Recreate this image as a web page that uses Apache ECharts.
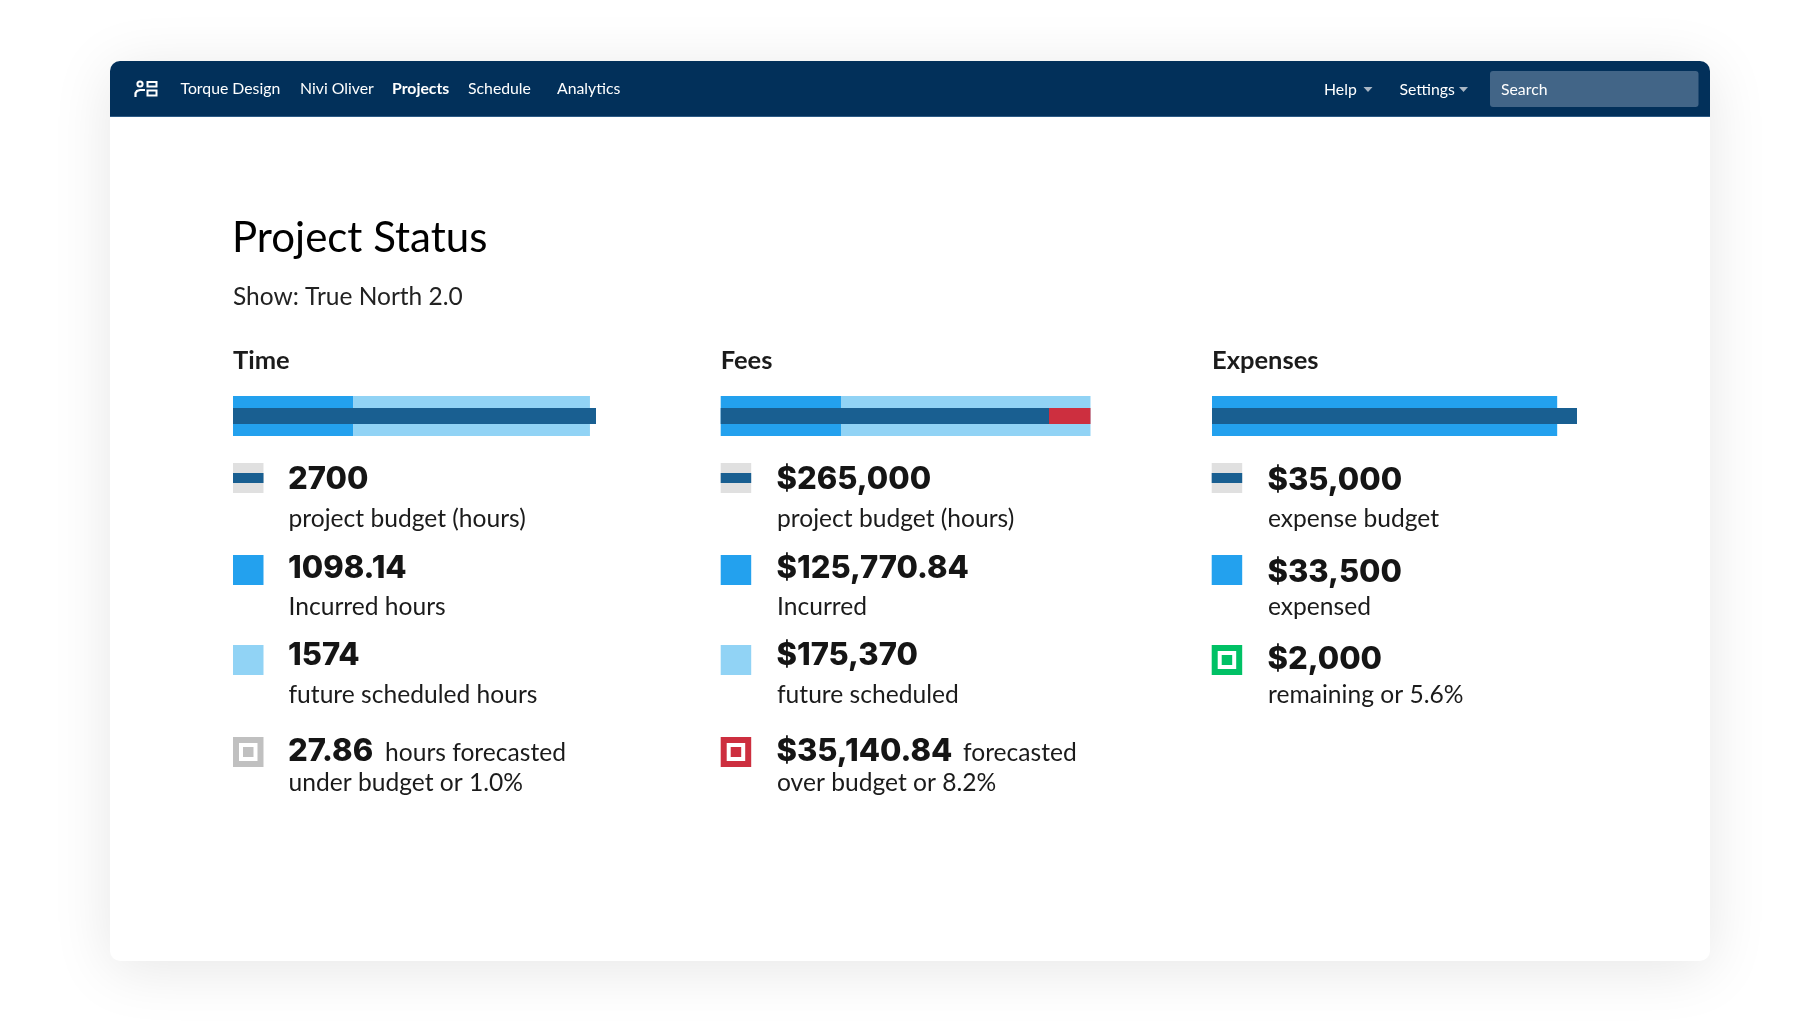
<!DOCTYPE html>
<html>
<head>
<meta charset="utf-8">
<title>Project Status</title>
<style>
  html, body { margin: 0; padding: 0; background: #fff; }
  #main { width: 1820px; height: 1024px; }
</style>
</head>
<body>
<div id="main"></div>
<script src="https://cdn.jsdelivr.net/npm/echarts@6/dist/echarts.min.js"></script>
<script>
// bar lengths are read off the drawn bars, they do not quite follow the printed figures
var categories = ['status'];
var timeBudget = [2700];
var timeIncurred = [896];
var timeScheduled = [1759];
var feesBudget = [265000];
var feesOver = [33500];
var feesIncurred = [97100];
var feesScheduled = [201400];
var expensesBudget = [35000];
var expensesSpent = [33100];

// printed figures
var navLeft = ['Torque Design', 'Nivi Oliver', 'Projects', 'Schedule', 'Analytics'];
var timeNumbers = ['2700', '1098.14', '1574', '27.86'];
var timeCaptions = ['project budget (hours)', 'Incurred hours', 'future scheduled hours', 'hours forecasted', 'under budget or 1.0%'];
var feesNumbers = ['$265,000', '$125,770.84', '$175,370', '$35,140.84'];
var feesCaptions = ['project budget (hours)', 'Incurred', 'future scheduled', 'forecasted', 'over budget or 8.2%'];
var expensesNumbers = ['$35,000', '$33,500', '$2,000'];
var expensesCaptions = ['expense budget', 'expensed', 'remaining or 5.6%'];

var BRIGHT = '#23a1ee', LIGHT = '#91d3f5', DARK = '#195f91', RED = '#cd2f3f', GREEN = '#00c165';
var GREY = '#c0c0c0', PALE = '#e0e0e0', NAVY = '#02305a', INK = '#1b1b1b';
var BODY = 'Lato, sans-serif', NUM = 'Inter, sans-serif';

var g = [];

function text(str, x, baseline, size, opt) {
  opt = opt || {};
  g.push({
    type: 'text', x: x, y: baseline + size * 0.18, z: 20,
    style: {
      text: str, fontFamily: opt.family || BODY, fontSize: size, fontWeight: opt.weight || 'normal',
      fill: opt.fill || INK, align: 'left', verticalAlign: 'bottom', lineHeight: size
    }
  });
}
function rect(x, y, w, h, fill, r) {
  g.push({ type: 'rect', z: 10, shape: { x: x, y: y, width: w, height: h, r: r || 0 }, style: { fill: fill } });
}
function caret(x, y) {
  g.push({ type: 'polygon', z: 20, shape: { points: [[x, y], [x + 9, y], [x + 4.5, y + 5]] }, style: { fill: '#a9b6c4' } });
}
function budgetSwatch(x, y) { rect(x, y, 30.5, 30, PALE); rect(x, y + 10, 30.5, 10, DARK); }
function ringSwatch(x, y, color) {
  rect(x, y, 30.5, 30, color);
  rect(x + 6, y + 6, 18.5, 18, '#fff');
  rect(x + 10, y + 10, 10.5, 10, color);
}

// card and its shadow
g.push({
  type: 'rect', z: 1, shape: { x: 110, y: 61, width: 1600, height: 900, r: 10 },
  style: { fill: '#fff', shadowBlur: 60, shadowColor: 'rgba(0,0,0,0.10)', shadowOffsetY: 8 }
});

// nav bar
g.push({ type: 'rect', z: 5, shape: { x: 110, y: 61, width: 1600, height: 56, r: [10, 10, 0, 0] }, style: { fill: NAVY } });
rect(110, 116, 1600, 1, '#2c5a85');
g.push({ type: 'circle', z: 20, shape: { cx: 140, cy: 84, r: 2.6 }, style: { fill: 'none', stroke: '#fff', lineWidth: 2 } });
g.push({ type: 'polyline', z: 20, shape: { points: [[135.5, 97], [135.5, 93], [137, 91], [140, 90], [145, 90]] }, style: { fill: 'none', stroke: '#fff', lineWidth: 2.2 } });
g.push({ type: 'rect', z: 20, shape: { x: 147.5, y: 82, width: 9, height: 4.5 }, style: { fill: 'none', stroke: '#fff', lineWidth: 2 } });
g.push({ type: 'rect', z: 20, shape: { x: 147.5, y: 90.5, width: 9, height: 5 }, style: { fill: 'none', stroke: '#fff', lineWidth: 2 } });

var navX = [180.5, 300, 392, 468, 557];
navLeft.forEach(function (s, i) {
  text(s, navX[i], 94, 15.8, { fill: '#fff', weight: s === 'Projects' ? 'bold' : 'normal' });
});
text('Help', 1324, 95, 15.8, { fill: '#fff' });
caret(1363.5, 87);
text('Settings', 1399.5, 95, 15.8, { fill: '#fff' });
caret(1459, 87);
rect(1490, 71, 208.5, 36, '#426587', 3);
text('Search', 1501, 95, 15.8, { fill: '#fff' });

// headings
text('Project Status', 232, 252, 42, { fill: '#000' });
text('Show: True North 2.0', 233, 305, 24.5, { fill: '#222' });
text('Time', 233, 369, 25.5, { weight: 'bold' });
text('Fees', 720.7, 369, 25.5, { weight: 'bold' });
text('Expenses', 1212, 369, 25.5, { weight: 'bold' });

// legend blocks
var swatchY = [463, 555, 645, 737];
var numberY = [490, 578.5, 666, 762];
var captionY = [527, 615, 703];

function fourRows(swX, txtX, numbers, captions, ringColor, forecastX) {
  budgetSwatch(swX, swatchY[0]);
  rect(swX, swatchY[1], 30.5, 30, BRIGHT);
  rect(swX, swatchY[2], 30.5, 30, LIGHT);
  ringSwatch(swX, swatchY[3], ringColor);
  numbers.forEach(function (s, i) {
    text(s, txtX, numberY[i], 31, { family: NUM, weight: 800, fill: '#151515' });
  });
  for (var i = 0; i < 3; i++) text(captions[i], txtX + 0.5, captionY[i], 24.6);
  text(captions[3], forecastX, 761, 24.6);
  text(captions[4], txtX + 0.5, 791, 24.6);
}
fourRows(233, 288, timeNumbers, timeCaptions, GREY, 385);
fourRows(720.7, 776.5, feesNumbers, feesCaptions, RED, 963);

var expNumberY = [490.5, 582.5, 670];
budgetSwatch(1211.7, swatchY[0]);
rect(1211.7, swatchY[1], 30.5, 30, BRIGHT);
ringSwatch(1211.7, swatchY[2], GREEN);
expensesNumbers.forEach(function (s, i) {
  text(s, 1267.5, expNumberY[i], 31, { family: NUM, weight: 800, fill: '#151515' });
  text(expensesCaptions[i], 1268, captionY[i], 24.6);
});

// three grids, each with one axis for the wide bar and one for the thin budget bar
var grids = [
  { left: 233, top: 396, width: 363, height: 40 },
  { left: 720.7, top: 396, width: 369.8, height: 40 },
  { left: 1212, top: 396, width: 365, height: 40 }
];
var xMax = [2700, 298500, 35000];

var xAxes = xMax.map(function (m, i) {
  return { type: 'value', gridIndex: i, min: 0, max: m, show: false };
});
var yAxes = [];
grids.forEach(function (gr, i) {
  yAxes.push({ type: 'category', gridIndex: i, data: categories, show: false });
  yAxes.push({ type: 'category', gridIndex: i, data: categories, show: false });
});

function bar(name, grid, thin, stack, data, color) {
  return {
    name: name, type: 'bar', silent: true, stack: stack,
    xAxisIndex: grid, yAxisIndex: grid * 2 + (thin ? 1 : 0),
    barWidth: thin ? 16 : 40, data: data, z: thin ? 4 : 2,
    itemStyle: { color: color }
  };
}
var series = [
  bar('Incurred hours', 0, false, 'time', timeIncurred, BRIGHT),
  bar('Future scheduled hours', 0, false, 'time', timeScheduled, LIGHT),
  bar('Project budget', 0, true, 'timeBudget', timeBudget, DARK),
  bar('Incurred', 1, false, 'fees', feesIncurred, BRIGHT),
  bar('Future scheduled', 1, false, 'fees', feesScheduled, LIGHT),
  bar('Project budget', 1, true, 'feesBudget', feesBudget, DARK),
  bar('Over budget', 1, true, 'feesBudget', feesOver, RED),
  bar('Expensed', 2, false, 'expenses', expensesSpent, BRIGHT),
  bar('Expense budget', 2, true, 'expensesBudget', expensesBudget, DARK)
];

var myChart = echarts.init(document.getElementById('main'));
myChart.setOption({
  animation: false,
  backgroundColor: '#fff',
  grid: grids,
  xAxis: xAxes,
  yAxis: yAxes,
  series: series,
  graphic: { elements: g }
});
</script>
</body>
</html>
